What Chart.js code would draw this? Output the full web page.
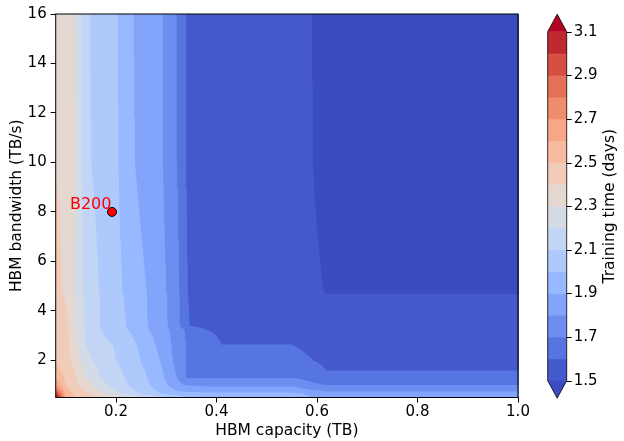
<!DOCTYPE html>
<html>
<head>
<meta charset="utf-8">
<script src="https://cdn.jsdelivr.net/npm/chart.js@4.4.0/dist/chart.umd.min.js"></script>
<style>
  html, body { margin: 0; padding: 0; background: #fff; }
</style>
</head>
<body>
<canvas id="myChart" width="624" height="441"></canvas>
<script>
// grid columns: HBM capacity (TB)
const capacity = [0.08, 0.10, 0.12, 0.14, 0.17, 0.20, 0.23, 0.26, 0.29, 0.32, 0.34, 0.38, 0.41, 0.48, 0.55, 0.59, 0.62, 1.00];
// grid rows: HBM bandwidth (TB/s), top to bottom
const bandwidth = [16, 10, 4.8, 4.6, 4.0, 3.4, 3.25, 2.6, 2.0, 1.6, 1.3, 1.0, 0.8, 0.65, 0.5];
// training time (days), one row per bandwidth value
const trainingTime = [
  [2.38, 2.34, 2.29, 2.115, 2.06, 2.01, 1.91, 1.85, 1.81, 1.704, 1.598, 1.56, 1.55, 1.54, 1.52, 1.501, 1.45, 1.45],
  [2.399, 2.35, 2.295, 2.12, 2.065, 2.015, 1.915, 1.855, 1.812, 1.706, 1.599, 1.56, 1.55, 1.54, 1.52, 1.502, 1.46, 1.46],
  [2.46, 2.37, 2.28, 2.17, 2.09, 2.03, 1.96, 1.902, 1.83, 1.74, 1.605, 1.53, 1.53, 1.53, 1.525, 1.52, 1.494, 1.494],
  [2.47, 2.38, 2.285, 2.175, 2.095, 2.035, 1.965, 1.905, 1.835, 1.745, 1.607, 1.53, 1.53, 1.53, 1.525, 1.52, 1.504, 1.504],
  [2.47, 2.42, 2.298, 2.176, 2.093, 2.037, 1.975, 1.905, 1.833, 1.746, 1.61, 1.53, 1.53, 1.53, 1.525, 1.52, 1.51, 1.51],
  [2.475, 2.425, 2.303, 2.178, 2.094, 2.04, 1.98, 1.907, 1.838, 1.75, 1.61, 1.55, 1.545, 1.54, 1.535, 1.53, 1.52, 1.52],
  [2.48, 2.43, 2.307, 2.18, 2.096, 2.044, 1.988, 1.912, 1.845, 1.76, 1.688, 1.599, 1.585, 1.585, 1.585, 1.575, 1.56, 1.56],
  [2.49, 2.44, 2.333, 2.197, 2.139, 2.091, 2.027, 1.957, 1.869, 1.768, 1.696, 1.641, 1.601, 1.601, 1.601, 1.59, 1.575, 1.575],
  [2.495, 2.44, 2.36, 2.23, 2.155, 2.099, 2.04, 1.974, 1.893, 1.772, 1.697, 1.682, 1.67, 1.643, 1.616, 1.601, 1.59, 1.59],
  [2.53, 2.461, 2.393, 2.275, 2.178, 2.124, 2.062, 1.994, 1.911, 1.789, 1.695, 1.685, 1.678, 1.665, 1.645, 1.62, 1.598, 1.598],
  [2.59, 2.481, 2.407, 2.296, 2.194, 2.135, 2.073, 2.005, 1.922, 1.808, 1.699, 1.698, 1.698, 1.698, 1.697, 1.67, 1.63, 1.63],
  [2.68, 2.50, 2.429, 2.345, 2.233, 2.156, 2.089, 2.022, 1.943, 1.84, 1.795, 1.785, 1.785, 1.785, 1.784, 1.72, 1.701, 1.701],
  [2.85, 2.538, 2.455, 2.393, 2.283, 2.188, 2.113, 2.044, 1.971, 1.89, 1.86, 1.848, 1.845, 1.845, 1.845, 1.80, 1.78, 1.78],
  [3.04, 2.571, 2.475, 2.425, 2.343, 2.25, 2.157, 2.075, 2.001, 1.96, 1.945, 1.93, 1.928, 1.928, 1.927, 1.88, 1.83, 1.83],
  [3.2, 2.601, 2.501, 2.46, 2.401, 2.34, 2.275, 2.201, 2.125, 2.05, 2.0, 1.96, 1.95, 1.945, 1.94, 1.90, 1.845, 1.845]
];

// contour levels and their colours (coolwarm)
const levels = [1.5, 1.6, 1.7, 1.8, 1.9, 2.0, 2.1, 2.2, 2.3, 2.4, 2.5, 2.6, 2.7, 2.8, 2.9, 3.0, 3.1];
const levelColors = ['#445acc', '#5775e1', '#6c8ef1', '#82a5fb', '#98b9ff', '#aec9fc', '#c2d5f4', '#d5dbe6',
                     '#e5d8d1', '#f1ccb9', '#f7bba0', '#f7a687', '#f18d6f', '#e57058', '#d55042', '#c0282f'];
const underColor = '#3b4cc0';
const overColor = '#b40426';

const xTicks = [0.2, 0.4, 0.6, 0.8, 1.0];
const yTicks = [2, 4, 6, 8, 10, 12, 14, 16];
const cbarTicks = [1.5, 1.7, 1.9, 2.1, 2.3, 2.5, 2.7, 2.9, 3.1];

// marked GPU
const gpuNames = ['B200'];
const gpuCapacity = [0.192];
const gpuBandwidth = [8];

const FONT = 'DejaVu Sans';
Chart.defaults.font.family = FONT;
Chart.defaults.color = '#000';

function timeAt(cx, bw) {
  let i = 0;
  while (i < capacity.length - 2 && cx > capacity[i + 1]) i++;
  let j = 0;
  while (j < bandwidth.length - 2 && bw < bandwidth[j + 1]) j++;
  const tx = Math.min(1, Math.max(0, (cx - capacity[i]) / (capacity[i + 1] - capacity[i])));
  const ty = Math.min(1, Math.max(0, (bw - bandwidth[j]) / (bandwidth[j + 1] - bandwidth[j])));
  const top = trainingTime[j][i] * (1 - tx) + trainingTime[j][i + 1] * tx;
  const bot = trainingTime[j + 1][i] * (1 - tx) + trainingTime[j + 1][i + 1] * tx;
  return top * (1 - ty) + bot * ty;
}

function hexRgb(h) {
  return [parseInt(h.slice(1, 3), 16), parseInt(h.slice(3, 5), 16), parseInt(h.slice(5, 7), 16)];
}
const levelRgb = levelColors.map(hexRgb);
const underRgb = hexRgb(underColor);
const overRgb = hexRgb(overColor);

function bandRgb(z) {
  if (z < levels[0]) return underRgb;
  if (z >= levels[levels.length - 1]) return overRgb;
  let k = 0;
  while (z >= levels[k + 1]) k++;
  return levelRgb[k];
}

// filled contours, sampled through the chart scales
const contourFill = {
  id: 'contourFill',
  beforeDatasetsDraw(chart) {
    const { ctx, chartArea: a, scales: { x, y } } = chart;
    const ss = 2;
    const w = Math.ceil(a.right - a.left) * ss, h = Math.ceil(a.bottom - a.top) * ss;
    const off = document.createElement('canvas');
    off.width = w; off.height = h;
    const octx = off.getContext('2d');
    const img = octx.createImageData(w, h);
    const xs = [];
    for (let px = 0; px < w; px++) xs.push(x.getValueForPixel(a.left + (px + 0.5) / ss));
    for (let py = 0; py < h; py++) {
      const yv = y.getValueForPixel(a.top + (py + 0.5) / ss);
      for (let px = 0; px < w; px++) {
        const c = bandRgb(timeAt(xs[px], yv));
        const o = (py * w + px) * 4;
        img.data[o] = c[0]; img.data[o + 1] = c[1]; img.data[o + 2] = c[2]; img.data[o + 3] = 255;
      }
    }
    octx.putImageData(img, 0, 0);
    ctx.save();
    ctx.imageSmoothingEnabled = true;
    ctx.imageSmoothingQuality = 'high';
    ctx.drawImage(off, a.left, a.top, w / ss, h / ss);
    ctx.strokeStyle = '#000';
    ctx.lineWidth = 1;
    ctx.strokeRect(a.left, a.top, a.right - a.left, a.bottom - a.top);
    // point label
    const meta = chart.getDatasetMeta(0);
    ctx.fillStyle = 'red';
    ctx.font = '16px "' + FONT + '"';
    ctx.textAlign = 'right';
    ctx.textBaseline = 'alphabetic';
    meta.data.forEach((el, i) => ctx.fillText(gpuNames[i], el.x - 0.5, el.y - 2.5));
    ctx.restore();
  }
};

// colour bar on the right
const colorBar = {
  id: 'colorBar',
  afterDraw(chart) {
    const { ctx } = chart;
    const left = 547.7, right = 566.7, top = 31.7, bottom = 380.7, ext = 17.5;
    const lo = levels[0], hi = levels[levels.length - 1];
    const yOf = v => bottom - (v - lo) / (hi - lo) * (bottom - top);
    const mid = (left + right) / 2;
    ctx.save();
    for (let k = 0; k < levelColors.length; k++) {
      const y1 = yOf(levels[k + 1]), y0 = yOf(levels[k]);
      ctx.fillStyle = levelColors[k];
      ctx.fillRect(left, y1 - 0.3, right - left, y0 - y1 + 0.6);
    }
    ctx.fillStyle = overColor;
    ctx.beginPath();
    ctx.moveTo(left, top); ctx.lineTo(mid, top - ext); ctx.lineTo(right, top); ctx.closePath();
    ctx.fill();
    ctx.fillStyle = underColor;
    ctx.beginPath();
    ctx.moveTo(left, bottom); ctx.lineTo(mid, bottom + ext); ctx.lineTo(right, bottom); ctx.closePath();
    ctx.fill();
    ctx.strokeStyle = '#000';
    ctx.lineWidth = 0.8;
    ctx.beginPath();
    ctx.moveTo(left, top); ctx.lineTo(mid, top - ext); ctx.lineTo(right, top);
    ctx.lineTo(right, bottom); ctx.lineTo(mid, bottom + ext); ctx.lineTo(left, bottom);
    ctx.closePath();
    ctx.stroke();
    ctx.lineWidth = 1;
    ctx.fillStyle = '#000';
    ctx.font = '15px "' + FONT + '"';
    ctx.textAlign = 'left';
    ctx.textBaseline = 'middle';
    cbarTicks.forEach(v => {
      const ty = Math.round(yOf(v)) + 0.5;
      ctx.beginPath();
      ctx.moveTo(right, ty); ctx.lineTo(right + 5, ty);
      ctx.stroke();
      ctx.fillText(v.toFixed(1), right + 7, ty);
    });
    ctx.translate(610, (top + bottom) / 2);
    ctx.rotate(-Math.PI / 2);
    ctx.textAlign = 'center';
    ctx.font = '15.5px "' + FONT + '"';
    ctx.fillText('Training time (days)', 0, 0);
    ctx.restore();
  }
};

const points = gpuNames.map((n, i) => ({ x: gpuCapacity[i], y: gpuBandwidth[i] }));

new Chart(document.getElementById('myChart'), {
  type: 'scatter',
  data: {
    datasets: [{
      data: points,
      backgroundColor: '#ff0000',
      borderColor: '#000',
      borderWidth: 1,
      pointRadius: 4.5,
      pointHoverRadius: 4.5
    }]
  },
  options: {
    responsive: false,
    animation: false,
    events: [],
    layout: { padding: { top: 14, right: 106, bottom: 0, left: 0 } },
    plugins: { legend: { display: false }, tooltip: { enabled: false } },
    scales: {
      x: {
        type: 'linear',
        min: 0.08,
        max: 1.0,
        afterBuildTicks: s => { s.ticks = xTicks.map(v => ({ value: v })); },
        afterFit: s => { s.height = 43.5; },
        ticks: { font: { size: 15 }, padding: 1, maxRotation: 0, callback: v => v.toFixed(1) },
        grid: { display: true, drawOnChartArea: false, drawTicks: true, tickLength: 5, color: '#000' },
        border: { display: false },
        title: { display: true, text: 'HBM capacity (TB)', font: { size: 15.5 }, padding: { top: 0, bottom: 1.2 } }
      },
      y: {
        type: 'linear',
        min: 0.5,
        max: 16,
        afterBuildTicks: s => { s.ticks = yTicks.map(v => ({ value: v })); },
        afterFit: s => { s.width = 55.7; },
        ticks: { font: { size: 15 }, padding: 4, callback: v => String(v) },
        grid: { display: true, drawOnChartArea: false, drawTicks: true, tickLength: 5, color: '#000' },
        border: { display: false },
        title: { display: true, text: 'HBM bandwidth (TB/s)', font: { size: 15.5 }, padding: { top: 8, bottom: 0 } }
      }
    }
  },
  plugins: [contourFill, colorBar]
});
</script>
</body>
</html>
